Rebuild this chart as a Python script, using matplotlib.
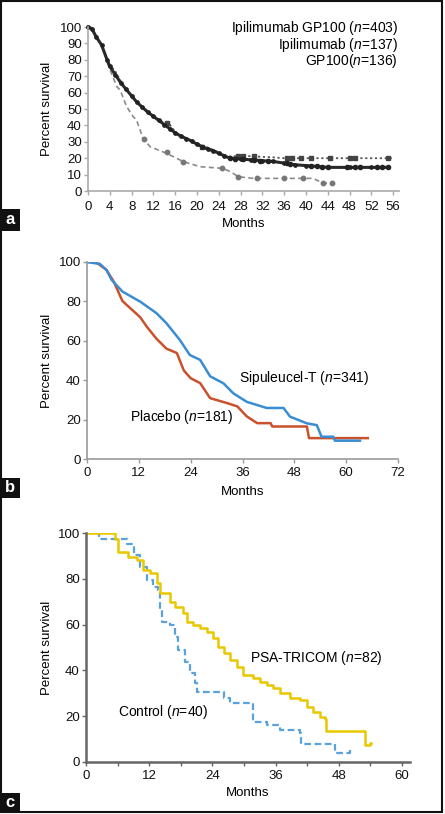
import matplotlib
matplotlib.use("Agg")
import matplotlib.pyplot as plt
from matplotlib.patches import Rectangle

plt.rcParams['font.family'] = ['Liberation Sans', 'DejaVu Sans']
plt.rcParams['mathtext.fontset'] = 'custom'
plt.rcParams['mathtext.it'] = 'Liberation Sans:italic'
plt.rcParams['mathtext.rm'] = 'Liberation Sans'

# ---------------- Panel a data ----------------
a_ipi_gp100_months = [0, 0.7, 1.5, 2.5, 3.5, 4, 5, 6, 7, 8, 9, 10, 11, 12, 13, 14, 15, 16, 17, 18, 19, 20, 21, 22, 23, 24, 25, 26, 28, 30, 32, 34, 36, 38, 40, 42, 44, 48, 52, 55]
a_ipi_gp100_surv   = [100, 99, 94, 89, 80, 76, 71, 66, 62, 58, 54, 51, 48, 45.5, 43, 40.5, 38, 35.5, 33.5, 32, 30.5, 28.5, 27, 25.5, 24.5, 23, 21.5, 20, 19.5, 19, 18.5, 18, 17, 16, 15.5, 15, 14.4, 14.4, 14.4, 14.4]
a_ipi_gp100_cens_m = [26, 27, 28.5, 30.5, 31.5, 33, 36.5, 37, 41, 42, 43, 44, 47.5, 49, 50, 53, 54, 55]
a_ipi_gp100_cens_s = [20, 19.5, 19.5, 19, 18.5, 18.5, 17, 16.5, 15, 15, 14.4, 14.4, 14.4, 14.4, 14.4, 14.4, 14.4, 14.4]
a_ipi_months = [0, 0.7, 1.5, 2.5, 3.5, 4, 4.5, 5, 6, 8, 10, 12, 14, 15, 16, 18, 20, 22, 24, 25, 26, 28, 31, 34, 36, 56]
a_ipi_surv   = [100, 99, 94, 89, 80, 76, 75, 73, 67, 57.5, 51, 45.5, 41.5, 40.5, 36, 32, 29, 26.5, 23.5, 22, 21, 21.5, 21, 20.5, 20, 20]
a_ipi_cens_m = [14.5, 21, 27.5, 28.5, 30.5, 36.5, 37.5, 39, 41, 44.5, 48, 49, 55]
a_ipi_cens_s = [41.5, 27, 21.5, 21.5, 21.5, 20, 20, 20, 20, 20, 20, 20, 20]
a_gp100_months = [0, 0.7, 1.5, 2.5, 3.7, 5.3, 5.9, 7.1, 8.3, 8.9, 10.1, 11.4, 14.4, 17.5, 20.6, 24.8, 26.1, 27.6, 30.3, 41.3, 43.2, 45]
a_gp100_surv   = [100, 99, 94, 89, 76.8, 63.6, 61.6, 51.4, 45.3, 43.3, 32.1, 27, 23, 17.9, 14.8, 13.8, 11.8, 8.7, 7.7, 7.7, 4.7, 4.7]
a_gp100_cens_m = [10.2, 14.5, 17.5, 24.5, 27.6, 31, 36, 39.5, 43.2, 44.7]
a_gp100_cens_s = [32, 23.5, 17.9, 13.8, 8.7, 7.7, 7.7, 7.7, 4.7, 4.7]
a_labels = ["Ipilimumab GP100 ($\\it{n}$=403)", "Ipilimumab ($\\it{n}$=137)", "GP100($\\it{n}$=136)"]
a_xticks = list(range(0, 57, 4))
a_yticks = list(range(0, 101, 10))

# ---------------- Panel b data ----------------
b_sip_months = [0, 3, 4.5, 5.7, 8.2, 12.3, 16.1, 18.4, 21.5, 23.8, 26.2, 28.5, 31.6, 33.9, 37, 41.6, 45.5, 47, 50.9, 53.2, 54.3, 57, 57.4, 63.2]
b_sip_surv   = [100, 99, 96, 90.9, 85, 79.9, 74, 68.9, 60.4, 52.8, 50.3, 42, 38.4, 33.3, 29, 25.9, 25.9, 21.5, 18.1, 17.2, 11.3, 11.3, 9.3, 9.3]
b_pla_months = [0, 2, 4.5, 6.2, 8.2, 12.3, 13.9, 16.1, 18.4, 20.8, 22.4, 24, 26.2, 28.5, 32.4, 34.8, 37, 39.4, 42.5, 42.9, 50.9, 51.4, 65]
b_pla_surv   = [100, 100, 96, 90, 80.2, 72, 67, 61, 56, 53.8, 45, 41, 38.5, 30.9, 28.4, 26.7, 21.6, 18.2, 18.2, 16.5, 16.5, 10.6, 10.6]
b_labels = ["Sipuleucel-T ($\\it{n}$=341)", "Placebo ($\\it{n}$=181)"]
b_xticks = list(range(0, 73, 12))
b_yticks = list(range(0, 101, 20))

# ---------------- Panel c data ----------------
c_psa_months = [0, 5.5, 6.1, 8, 9.6, 10.9, 12.1, 13.4, 14, 15.6, 15.9, 16.9, 18.5, 19.1, 20.4, 21.6, 22.9, 24.2, 25.1, 26.1, 27.3, 28.6, 29.8, 31.7, 33, 34.3, 35.5, 36.8, 38.7, 40.6, 41.9, 43.1, 44.4, 45.4, 45.5, 52.9, 53.9, 54.1]
c_psa_surv   = [100, 97.5, 91.8, 89.6, 88.2, 83.8, 82.4, 78, 73.7, 73.7, 70, 67.8, 64.9, 61.3, 59.8, 58.4, 56.9, 54, 50.4, 47.5, 44.5, 41.6, 38, 36.5, 35.1, 33.6, 32.2, 30, 27.8, 27.1, 24.2, 22, 19.8, 18.6, 13.7, 7.4, 8.1, 8.1]
c_ctl_months = [0, 2.5, 7.8, 9.2, 10.2, 11.5, 12.8, 13.7, 14, 14.4, 15.9, 16.9, 17.5, 18.8, 19.7, 20.7, 21, 24.8, 26.1, 27.3, 31.1, 31.7, 34.3, 36.8, 40.6, 40.9, 46.9, 47.2, 49.5, 50.1]
c_ctl_surv   = [100, 97.5, 95, 90.4, 85.3, 79.5, 76.6, 75.1, 66.4, 61.3, 59.8, 54.7, 48.9, 43.8, 38.7, 34.4, 30.7, 30.7, 27.8, 25.6, 25.6, 17.6, 16.2, 14, 12.5, 7.9, 7.9, 4.1, 4.1, 5.2]
c_labels = ["PSA-TRICOM ($\\it{n}$=82)", "Control ($\\it{n}$=40)"]
c_xticks = list(range(0, 61, 12))
c_yticks = list(range(0, 101, 20))

W, H = 445, 814
fig = plt.figure(figsize=(W / 100, H / 100), dpi=100)

def axes_px(left, top, right, bottom):
    return fig.add_axes([left / W, 1 - bottom / H, (right - left) / W, (bottom - top) / H])

FS = 9.5

def style(ax, spine_col, lw, xpad, xlabpad):
    for s in ['top', 'right']:
        ax.spines[s].set_visible(False)
    for s in ['left', 'bottom']:
        ax.spines[s].set_color(spine_col)
        ax.spines[s].set_linewidth(lw)
    ax.tick_params(axis='both', labelsize=FS, colors=spine_col, labelcolor='#111111',
                   length=3, width=1, pad=1.5)
    ax.tick_params(axis='x', pad=xpad)
    ax.set_ylabel("Percent survival", fontsize=FS)
    ax.set_xlabel("Months", fontsize=FS, labelpad=xlabpad)

# ---- Panel a ----
axa = axes_px(88, 27, 398.6, 191)
axa.plot(a_gp100_months, a_gp100_surv, color='#8a8a8a', lw=1.2, ls=(0, (3, 2)), clip_on=False)
axa.plot(a_gp100_cens_m, a_gp100_cens_s, ls='none', marker='o', ms=3.2, mfc='#777777', mec='#777777', clip_on=False)
axa.plot(a_ipi_months, a_ipi_surv, color='#555555', lw=1.3, ls=(0, (1.2, 1.5)), clip_on=False)
axa.plot(a_ipi_cens_m, a_ipi_cens_s, ls='none', marker='s', ms=3.0, mfc='#444444', mec='#444444', clip_on=False)
axa.plot(a_ipi_gp100_months, a_ipi_gp100_surv, color='#2a2a2a', lw=2.2,
         marker='o', ms=2.4, mfc='#222222', mec='#222222', clip_on=False)
axa.plot(a_ipi_gp100_cens_m, a_ipi_gp100_cens_s, ls='none', marker='o', ms=3.0, mfc='#222222', mec='#222222', clip_on=False)
axa.set_xlim(0, 57)
axa.set_ylim(0, 100)
axa.set_xticks(a_xticks)
axa.set_yticks(a_yticks)
style(axa, '#aaaaaa', 1.2, 4.5, 3)
axa.yaxis.set_label_coords((53 - 88) / 310.6, 0.5)
for i, lab in enumerate(a_labels):
    fig.text(398 / W, 1 - (28 + 16.7 * i) / H, lab, ha='right', va='center', fontsize=10)

# ---- Panel b ----
axb = axes_px(87, 262, 398, 459)
axb.plot(b_pla_months, b_pla_surv, color='#c9512b', lw=1.8)
axb.plot(b_sip_months, b_sip_surv, color='#3a8dd2', lw=1.8)
axb.set_xlim(0, 72)
axb.set_ylim(0, 100)
axb.set_xticks(b_xticks)
axb.set_yticks(b_yticks)
style(axb, '#999999', 1.2, 3, 5)
axb.yaxis.set_label_coords((53 - 87) / 311, 0.5)
axb.text(239 / W, 1 - 378 / H, b_labels[0], transform=fig.transFigure, ha='left', va='center', fontsize=10)
axb.text(130 / W, 1 - 417 / H, b_labels[1], transform=fig.transFigure, ha='left', va='center', fontsize=10)

# ---- Panel c ----
axc = axes_px(86, 533, 410, 762)
axc.plot(c_ctl_months, c_ctl_surv, drawstyle='steps-post', color='#5aa2de', lw=1.6, ls=(0, (3, 1.6)))
axc.plot(c_psa_months, c_psa_surv, drawstyle='steps-post', color='#e9c800', lw=1.8)
axc.set_xlim(0, 61.5)
axc.set_ylim(0, 100)
axc.set_xticks(c_xticks)
axc.set_xticks(list(range(6, 61, 12)), minor=True)
axc.set_yticks(c_yticks)
style(axc, '#666666', 1.8, 2.5, 4)
axc.tick_params(axis='x', which='minor', length=3, width=1, colors='#666666')
axc.yaxis.set_label_coords((53 - 86) / 324, 0.5)
axc.text(250 / W, 1 - 658 / H, c_labels[0], transform=fig.transFigure, ha='left', va='center', fontsize=10)
axc.text(118 / W, 1 - 712 / H, c_labels[1], transform=fig.transFigure, ha='left', va='center', fontsize=10)

# ---- panel letters ----
for letter, top, bot in [('a', 209, 231), ('b', 478, 498), ('c', 793, 812)]:
    fig.patches.append(Rectangle((0, 1 - bot / H), 20 / W, (bot - top) / H,
                                 transform=fig.transFigure, facecolor='#111111', edgecolor='none'))
    fig.text(10 / W, 1 - (top + bot) / 2 / H, letter, color='white', fontsize=12,
             fontweight='bold', ha='center', va='center')

# ---- outer frame ----
fig.patches.append(Rectangle((1 / W, 2 / H), 441 / W, 811 / H, transform=fig.transFigure,
                             facecolor='none', edgecolor='#111111', lw=1.5))

fig.savefig("out.png", dpi=100)
